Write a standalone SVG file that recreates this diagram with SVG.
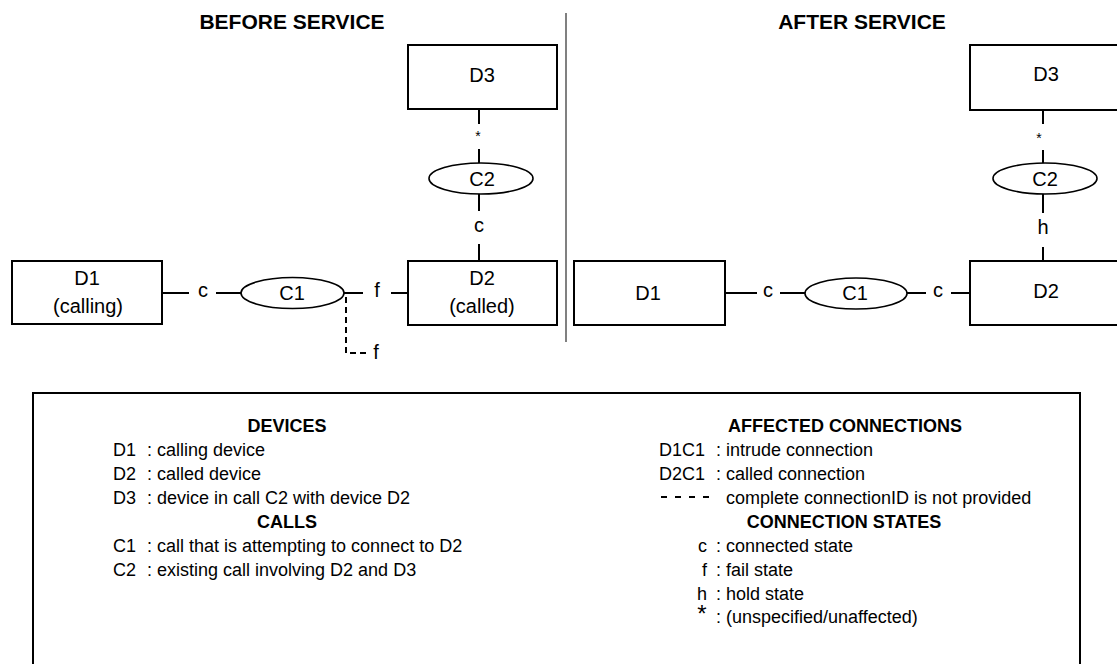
<svg xmlns="http://www.w3.org/2000/svg" width="1117" height="664" viewBox="0 0 1117 664">
<style>
text{font-family:"Liberation Sans",Arial,sans-serif;fill:#000}
.t{font-size:20px;text-anchor:middle}
.h{font-size:21px;font-weight:bold;text-anchor:middle}
.lg{font-size:18px}
.lh{font-size:18px;font-weight:bold;text-anchor:middle}
.box{fill:#fff;stroke:#000;stroke-width:2}
.ell{fill:#fff;stroke:#000;stroke-width:1.6}
.ln{stroke:#000;stroke-width:2;fill:none}
.dash{stroke:#000;stroke-width:2;fill:none;stroke-dasharray:6,4}
.ast{font-size:14px;text-anchor:middle}
</style>
<rect width="1117" height="664" fill="#fff"/>
<text class="h" x="292" y="29">BEFORE SERVICE</text>
<text class="h" x="862" y="29">AFTER SERVICE</text>
<line x1="566" y1="13" x2="566" y2="342" stroke="#808080" stroke-width="2"/>

<g id="connectors">
<!-- before -->
<line class="ln" x1="162" y1="293" x2="189" y2="293"/>
<text class="t" x="203" y="297">c</text>
<line class="ln" x1="216" y1="293" x2="241" y2="293"/>
<line class="ln" x1="344" y1="293" x2="363" y2="293"/>
<text class="t" x="377" y="297">f</text>
<line class="ln" x1="391" y1="293" x2="408" y2="293"/>
<path class="dash" d="M346,297 V353 H368"/>
<text class="t" x="376" y="359">f</text>
<line class="ln" x1="479" y1="109" x2="479" y2="124"/>
<text class="ast" x="478" y="141">*</text>
<line class="ln" x1="479" y1="149" x2="479" y2="163"/>
<line class="ln" x1="479" y1="194" x2="479" y2="211"/>
<text class="t" x="479" y="232">c</text>
<line class="ln" x1="479" y1="244" x2="479" y2="261"/>
<!-- after -->
<line class="ln" x1="725" y1="293" x2="757" y2="293"/>
<text class="t" x="768" y="297">c</text>
<line class="ln" x1="780" y1="293" x2="805" y2="293"/>
<line class="ln" x1="907" y1="293" x2="926" y2="293"/>
<text class="t" x="938" y="297">c</text>
<line class="ln" x1="951" y1="293" x2="970" y2="293"/>
<line class="ln" x1="1043" y1="110" x2="1043" y2="124"/>
<text class="ast" x="1039" y="143">*</text>
<line class="ln" x1="1043" y1="150" x2="1043" y2="163"/>
<line class="ln" x1="1043" y1="194" x2="1043" y2="213"/>
<text class="t" x="1043" y="234">h</text>
<line class="ln" x1="1043" y1="247" x2="1043" y2="261"/>
</g>

<g id="b-D1"><rect class="box" x="12" y="261" width="150" height="63"/><text class="t" x="87" y="285">D1</text><text class="t" x="88" y="313">(calling)</text></g>
<g id="b-C1"><ellipse class="ell" cx="292.5" cy="293" rx="51.5" ry="15.5"/><text class="t" x="292" y="300">C1</text></g>
<g id="b-D2"><rect class="box" x="408" y="261" width="149" height="64"/><text class="t" x="482" y="285">D2</text><text class="t" x="482" y="313">(called)</text></g>
<g id="b-C2"><ellipse class="ell" cx="481" cy="178.5" rx="52" ry="15.5"/><text class="t" x="482" y="186">C2</text></g>
<g id="b-D3"><rect class="box" x="408" y="45" width="149" height="64"/><text class="t" x="482" y="82">D3</text></g>

<g id="a-D1"><rect class="box" x="574" y="261" width="151" height="64"/><text class="t" x="648" y="300">D1</text></g>
<g id="a-C1"><ellipse class="ell" cx="856" cy="293.5" rx="51" ry="15.5"/><text class="t" x="855" y="300">C1</text></g>
<g id="a-D2"><rect class="box" x="970" y="261" width="150" height="64"/><text class="t" x="1046" y="298">D2</text></g>
<g id="a-C2"><ellipse class="ell" cx="1045" cy="178.5" rx="52" ry="15.5"/><text class="t" x="1045" y="186">C2</text></g>
<g id="a-D3"><rect class="box" x="970" y="45" width="150" height="65"/><text class="t" x="1046" y="81">D3</text></g>

<g id="legend">
<rect class="box" x="33" y="393" width="1047" height="300"/>
<text class="lh" x="287" y="432">DEVICES</text>
<text class="lg" x="113" y="456">D1</text><text class="lg" x="147" y="456">: calling device</text>
<text class="lg" x="113" y="480">D2</text><text class="lg" x="147" y="480">: called device</text>
<text class="lg" x="113" y="504">D3</text><text class="lg" x="147" y="504">: device in call C2 with device D2</text>
<text class="lh" x="287" y="528">CALLS</text>
<text class="lg" x="113" y="552">C1</text><text class="lg" x="147" y="552">: call that is attempting to connect to D2</text>
<text class="lg" x="113" y="576">C2</text><text class="lg" x="147" y="576">: existing call involving D2 and D3</text>

<text class="lh" x="845" y="432">AFFECTED CONNECTIONS</text>
<text class="lg" x="659" y="456">D1C1</text><text class="lg" x="716" y="456">: intrude connection</text>
<text class="lg" x="659" y="480">D2C1</text><text class="lg" x="716" y="480">: called connection</text>
<line x1="661" y1="497" x2="713" y2="497" stroke="#000" stroke-width="2" stroke-dasharray="6,8"/>
<text class="lg" x="726" y="504">complete connectionID is not provided</text>
<text class="lh" x="844" y="528">CONNECTION STATES</text>
<text class="lg" x="707" y="552" text-anchor="end">c</text><text class="lg" x="716" y="552">: connected state</text>
<text class="lg" x="707" y="576" text-anchor="end">f</text><text class="lg" x="716" y="576">: fail state</text>
<text class="lg" x="707" y="600" text-anchor="end">h</text><text class="lg" x="716" y="600">: hold state</text>
<text x="702" y="622" font-size="24" text-anchor="middle">*</text><text class="lg" x="716" y="623">: (unspecified/unaffected)</text>
</g>
</svg>
